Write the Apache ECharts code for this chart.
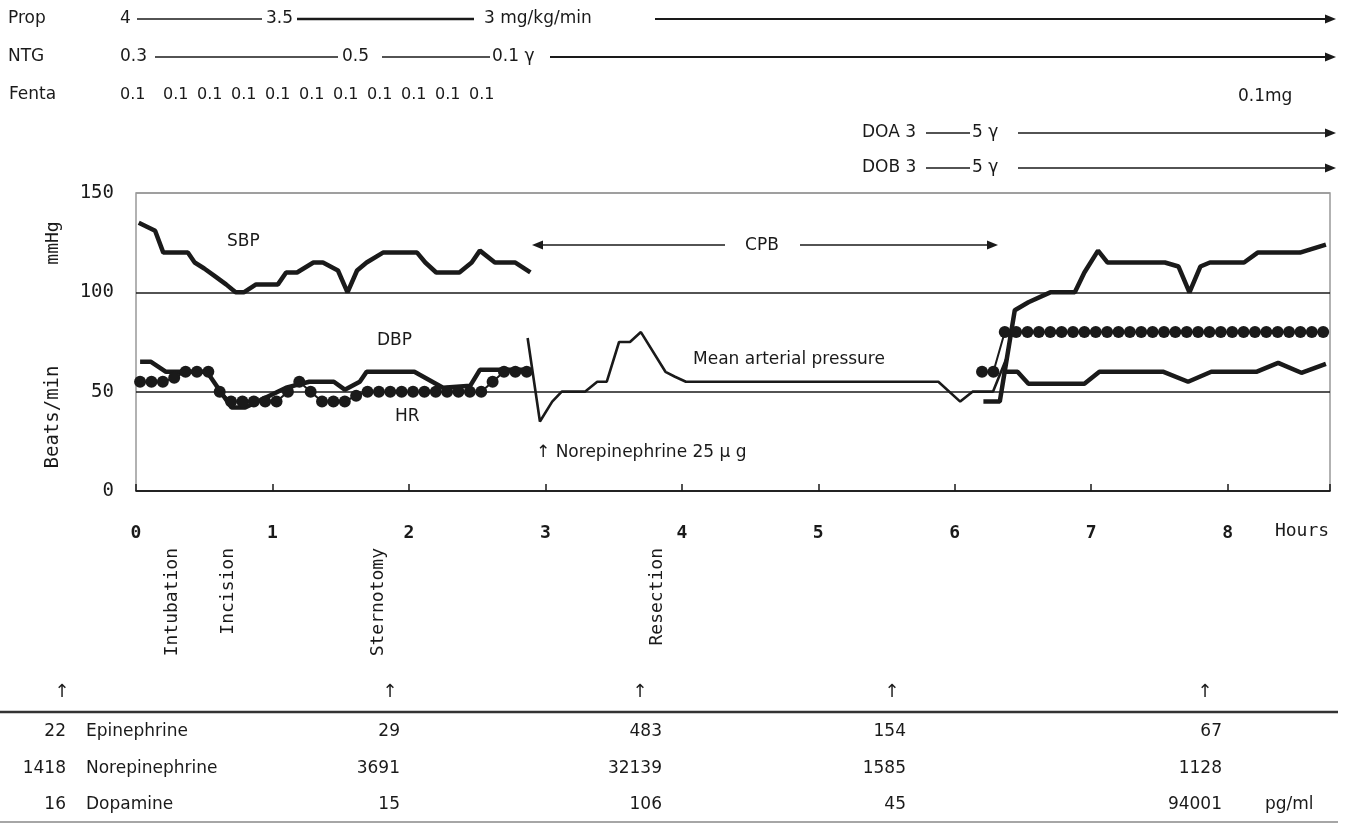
<!DOCTYPE html>
<html><head><meta charset="utf-8">
<script src="https://cdn.jsdelivr.net/npm/echarts@6/dist/echarts.min.js"></script>
<style>html,body{margin:0;padding:0;background:#fff}#c{width:1348px;height:824px}</style>
</head><body><div id="c"></div>
<script>
// ---- data (hours, value) ----
const sbp1 = [[0.02,135],[0.14,131],[0.20,120],[0.38,120],[0.43,115],[0.50,112],[0.58,108],[0.66,104],[0.73,100],[0.79,100],[0.88,104],[1.04,104],[1.10,110],[1.18,110],[1.30,115],[1.37,115],[1.48,111],[1.55,100],[1.62,111],[1.69,115],[1.81,120],[2.06,120],[2.12,115],[2.20,110],[2.37,110],[2.46,115],[2.52,121],[2.63,115],[2.78,115],[2.89,110]];
const sbp2 = [[6.21,45],[6.33,45],[6.44,91],[6.54,95],[6.70,100],[6.88,100],[6.95,110],[7.05,121],[7.12,115],[7.54,115],[7.64,113],[7.72,100],[7.80,113],[7.87,115],[8.12,115],[8.22,120],[8.53,120],[8.72,124]];
const dbp1 = [[0.03,65],[0.11,65],[0.22,60],[0.52,60],[0.60,52],[0.70,42],[0.80,42],[1.10,52],[1.27,55],[1.45,55],[1.53,51],[1.64,55],[1.69,60],[2.04,60],[2.25,52],[2.45,53],[2.52,61],[2.87,61]];
const dbp2 = [[6.35,60],[6.46,60],[6.54,54],[6.95,54],[7.06,60],[7.53,60],[7.71,55],[7.88,60],[8.21,60],[8.37,64.5],[8.54,59.5],[8.72,64]];
const hrStart1 = 0.03, hrStart2 = 6.20, hrStep = 5/60;
const hr1 = [55,55,55,57,60,60,60,50,45,45,45,45,45,50,55,50,45,45,45,48,50,50,50,50,50,50,50,50,50,50,50,55,60,60,60];
const hr2 = [60,60,80,80,80,80,80,80,80,80,80,80,80,80,80,80,80,80,80,80,80,80,80,80,80,80,80,80,80,80,80];
const map = [[2.87,77],[2.96,35],[3.05,45],[3.12,50],[3.29,50],[3.38,55],[3.45,55],[3.54,75],[3.62,75],[3.70,80],[3.88,60],[3.95,57.5],[4.03,55],[5.88,55],[6.04,45],[6.13,50],[6.28,50],[6.38,67]];
const events = ['Intubation','Incision','Sternotomy','Resection'];
const tableNames = ['Epinephrine','Norepinephrine','Dopamine'];
const col0 = ['22','1418','16'];
const col1 = ['29','3691','15'];
const col2 = ['483','32139','106'];
const col3 = ['154','1585','45'];
const col4 = ['67','1128','94001'];
const fentaDoses = ['0.1','0.1','0.1','0.1','0.1','0.1','0.1','0.1','0.1','0.1','0.1'];

// ---- build ----
function hrPairs(start, vals){ return vals.map((v,i)=>[start+i*hrStep, v]); }
const F = '"DejaVu Sans","Noto Sans CJK JP",sans-serif';
const FM = '"DejaVu Sans Mono","Liberation Mono",monospace';
const INK = '#1a1a1a';
const g = [];
function txt(t, x, y, opt){
  opt = opt || {};
  g.push({type:'text', x:x, y:y, rotation: opt.rot||0, z:10,
    style:{text:t, fill:opt.color||INK, font:(opt.weight||'normal')+' '+(opt.size||17)+'px '+(opt.font||F),
      align:opt.align||'left', verticalAlign:opt.va||'middle',
      textAlign:opt.align||'left', textVerticalAlign:opt.va||'middle'}});
}
function ln(x1,y1,x2,y2,w,c){ g.push({type:'line', z:10, shape:{x1:x1,y1:y1,x2:x2,y2:y2}, style:{stroke:c||INK, lineWidth:w||1.5}}); }
function arrowR(x1,x2,y,w){ ln(x1,y,x2-9,y,w||1.5); g.push({type:'polygon', z:10, shape:{points:[[x2,y],[x2-11,y-4.5],[x2-11,y+4.5]]}, style:{fill:INK}}); }
function arrowL(x1,x2,y,w){ ln(x1+9,y,x2,y,w||1.5); g.push({type:'polygon', z:10, shape:{points:[[x1,y],[x1+11,y-4.5],[x1+11,y+4.5]]}, style:{fill:INK}}); }

// top drug rows
txt('Prop',8,19); txt('4',120,19); ln(137,19,262,19,1.5); txt('3.5',266,19); ln(297,19,474,19,2.5); txt('3 mg/kg/min',484,19); arrowR(655,1336,19,1.8);
txt('NTG',8,57); txt('0.3',120,57); ln(155,57,338,57,1.5); txt('0.5',342,57); ln(382,57,490,57,1.5); txt('0.1 γ',492,57); arrowR(550,1336,57,1.8);
txt('Fenta',9,95);
const fx = [120,163,197,231,265,299,333,367,401,435,469];
fentaDoses.forEach((d,i)=>txt(d,fx[i],95,{size:16}));
txt('0.1mg',1238,97);
txt('DOA 3',862,133); ln(926,133,970,133,1.3); txt('5 γ',972,133); arrowR(1018,1336,133,1.5);
txt('DOB 3',862,168); ln(926,168,970,168,1.3); txt('5 γ',972,168); arrowR(1018,1336,168,1.5);

// in-plot labels
txt('SBP',227,242); txt('DBP',377,341); txt('HR',395,417);
txt('Mean arterial pressure',693,360);
txt('↑ Norepinephrine 25 μ g',536,453);
arrowL(532,725,245,1.5); txt('CPB',762,246,{align:'center'}); arrowR(800,998,245,1.5);

// axis names
txt('mmHg',53,243,{rot:Math.PI/2,align:'center',size:18,font:FM});
txt('Beats/min',53,417,{rot:Math.PI/2,align:'center',size:19,font:FM});
txt('Hours',1302,531,{align:'center',size:18,font:FM});

// events (rotated)
const ex = [172,228,378,657];
events.forEach((e,i)=>txt(e,ex[i],548,{rot:Math.PI/2,align:'right',size:18,font:FM}));

// table
[62,390,640,892,1205].forEach(x=>txt('↑',x,692,{align:'center',size:18}));
ln(0,712,1338,712,2.5,'#333');
ln(0,822,1338,822,1.5,'#888');
const ry = [732,769,805];
for(let r=0;r<3;r++){
  txt(col0[r],66,ry[r],{align:'right'});
  txt(tableNames[r],86,ry[r]);
  txt(col1[r],400,ry[r],{align:'right'});
  txt(col2[r],662,ry[r],{align:'right'});
  txt(col3[r],906,ry[r],{align:'right'});
  txt(col4[r],1222,ry[r],{align:'right'});
}
txt('pg/ml',1265,ry[2]);

const lineStyleThick = {width:4.5, color:INK};
const option = {
  animation:false,
  backgroundColor:'#fff',
  grid:{left:136, right:18, top:193, bottom:333, show:true, borderColor:'#999', borderWidth:1.5},
  xAxis:{type:'value', min:0, max:8.75, interval:1,
    axisLine:{show:true, lineStyle:{color:INK, width:1.5}},
    axisTick:{show:true, inside:true, length:7, lineStyle:{color:INK, width:1.5}},
    axisLabel:{margin:33, color:INK, fontSize:18, fontWeight:'bold', fontFamily:FM, formatter:v=>Number.isInteger(v)?String(v):''},
    splitLine:{show:false}},
  yAxis:{type:'value', min:0, max:150, interval:50,
    axisLine:{show:false}, axisTick:{show:false},
    axisLabel:{margin:22, color:INK, fontSize:19, fontFamily:FM},
    splitLine:{show:true, lineStyle:{color:[INK,INK,INK,'#999'], width:1.5}}},
  series:[
    {type:'line', name:'SBP', data:sbp1.concat([null]).concat(sbp2), connectNulls:false, showSymbol:false, symbol:'none', lineStyle:lineStyleThick, z:3},
    {type:'line', name:'DBP', data:dbp1.concat([null]).concat(dbp2), connectNulls:false, symbol:'none', lineStyle:lineStyleThick, z:3},
    {type:'line', name:'MAP', data:map, symbol:'none', lineStyle:{width:2.6, color:INK}, z:2},
    {type:'line', name:'HR', data:hrPairs(hrStart1,hr1).concat([null]).concat(hrPairs(hrStart2,hr2)), connectNulls:false,
      symbol:'circle', symbolSize:12, showSymbol:true, itemStyle:{color:INK}, lineStyle:{width:2, color:INK}, z:4}
  ],
  graphic:g
};
const chart = echarts.init(document.getElementById('c'), null, {renderer:'canvas'});
chart.setOption(option);
</script></body></html>
